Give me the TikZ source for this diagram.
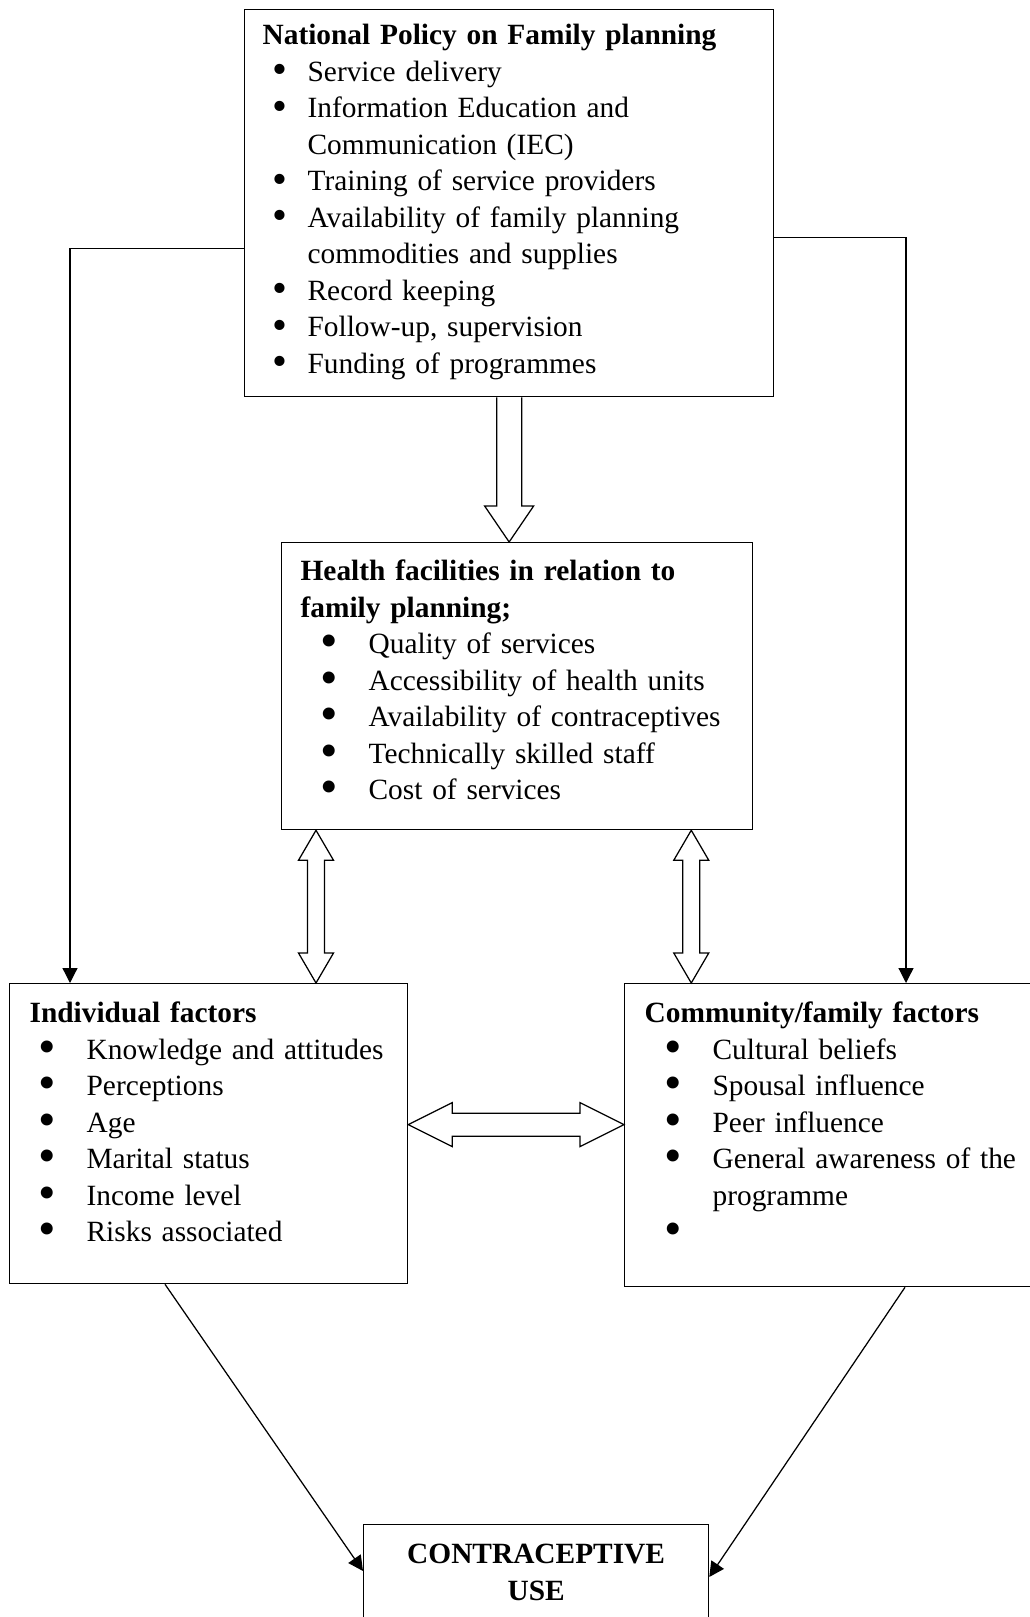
\documentclass[tikz,border=0pt]{standalone}
\usepackage{fontspec}
\setmainfont{Liberation Serif}
\usepackage{enumitem}
\usepackage{tikz}
\usetikzlibrary{arrows.meta, positioning, calc}

\newcommand{\bigdot}[2]{\raisebox{#2}{\scalebox{#1}{\textbullet}}}
\setlist[itemize]{nosep, align=right, label=\bigdot{1.7}{-1.6pt}}

\begin{document}
\begin{tikzpicture}[x=0.4pt, y=-0.4pt, line width=0.5pt,
    font=\fontsize{11.75pt}{14.6pt}\selectfont,
    box/.style={draw, anchor=north west, inner ysep=0pt, inner xsep=8pt, align=left},
    hollow/.style={draw, line join=miter},
    link/.style={-{Triangle[width=6pt,length=6pt]}}]
                \useasboundingbox (0,0) rectangle (1029,1617);

                % Policy
                \node [box, inner xsep=7.2pt, text width=197.2pt, text height=14pt, text depth=140.8pt] (policy) at (244,9) {\textbf{National Policy on Family planning}
                    \begin{itemize}[leftmargin=18pt, labelwidth=9.3pt, labelsep=8.2pt, label=\bigdot{1.45}{-1pt}]
                        \item Service delivery
                        \item Information Education and\newline Communication (IEC)
                        \item Training of service providers
                        \item Availability of family planning\newline commodities and supplies
                        \item Record keeping
                        \item Follow-up, supervision
                        \item Funding of programmes
                    \end{itemize}};

                % Health facilities
                \node [box, inner xsep=7.6pt, text width=173.2pt, text height=15.2pt, text depth=99.6pt] (health) at (281,542) {\textbf{Health facilities in relation to\newline family planning;}
                    \begin{itemize}[leftmargin=27.2pt, labelwidth=14.1pt, labelsep=12.2pt]
                        \item Quality of services
                        \item Accessibility of health units
                        \item Availability of contraceptives
                        \item Technically skilled staff
                        \item Cost of services
                    \end{itemize}};

                % Individual / community
                \node [box, text width=143.2pt, text height=15.6pt, text depth=104.4pt] (indiv) at (9,983) {\textbf{Individual factors}
                    \begin{itemize}[leftmargin=22.8pt, labelwidth=9.7pt, labelsep=12.2pt]
                        \item Knowledge and attitudes
                        \item Perceptions
                        \item Age
                        \item Marital status
                        \item Income level
                        \item Risks associated
                    \end{itemize}};
                \node [box, text width=150.4pt, text height=15.6pt, text depth=105.6pt] (community) at (624,983) {\textbf{Community/family factors}
                    \begin{itemize}[leftmargin=27.2pt, labelwidth=14.1pt, labelsep=12.2pt]
                        \item Cultural beliefs
                        \item Spousal influence
                        \item Peer influence
                        \item General awareness of the\newline programme
                        \item \mbox{}
                    \end{itemize}};

                % Outcome
                \node [box, align=center, text width=122pt, text height=15.6pt, text depth=30.8pt] (use) at (363,1524) {\textbf{CONTRACEPTIVE}\\\textbf{USE}};

                % Block arrows
                \coordinate (downtip) at (policy.south |- health.north);
                \draw[hollow] ($(policy.south)+(-12.5,0)$) |- ($(downtip)+(-24.5,-36)$) -- (downtip)
                    -- ($(downtip)+(24.5,-36)$) -| ($(policy.south)+(12.5,0)$);

                \coordinate (lt) at ($(health.south west)+(35,0)$);
                \coordinate (lb) at (lt |- indiv.north);
                \draw[hollow] (lt) -- ($(lt)+(17.5,30)$) -- ($(lt)+(8.5,30)$) -- ($(lb)+(8.5,-30)$) -- ($(lb)+(17.5,-30)$)
                    -- (lb) -- ($(lb)+(-17.5,-30)$) -- ($(lb)+(-8.5,-30)$) -- ($(lt)+(-8.5,30)$) -- ($(lt)+(-17.5,30)$) -- cycle;

                \coordinate (rt) at ($(health.south east)+(-62,0)$);
                \coordinate (rb) at (rt |- community.north);
                \draw[hollow] (rt) -- ($(rt)+(17.5,30)$) -- ($(rt)+(8.5,30)$) -- ($(rb)+(8.5,-30)$) -- ($(rb)+(17.5,-30)$)
                    -- (rb) -- ($(rb)+(-17.5,-30)$) -- ($(rb)+(-8.5,-30)$) -- ($(rt)+(-8.5,30)$) -- ($(rt)+(-17.5,30)$) -- cycle;

                \coordinate (hl) at ($(indiv.east)+(0,-9)$);
                \coordinate (hr) at (hl -| community.west);
                \draw[hollow] (hl) -- ($(hl)+(44,-22)$) -- ($(hl)+(44,-11.5)$) -- ($(hr)+(-44,-11.5)$) -- ($(hr)+(-44,-22)$)
                    -- (hr) -- ($(hr)+(-44,22)$) -- ($(hr)+(-44,11.5)$) -- ($(hl)+(44,11.5)$) -- ($(hl)+(44,22)$) -- cycle;

                % Line arrows
                \draw[link] ($(policy.west)+(0,45.5)$) -| ($(indiv.north west)+(61,0)$);
                \draw[link] ($(policy.east)+(0,34.5)$) -| ($(community.north west)+(282,0)$);
                \draw[link] ($(indiv.south west)+(156,0)$) -- ($(use.north west)+(0,47)$);
                \draw[link] ($(community.south west)+(281,0)$) -- ($(use.north east)+(0,53)$);
            \end{tikzpicture}
\end{document}
